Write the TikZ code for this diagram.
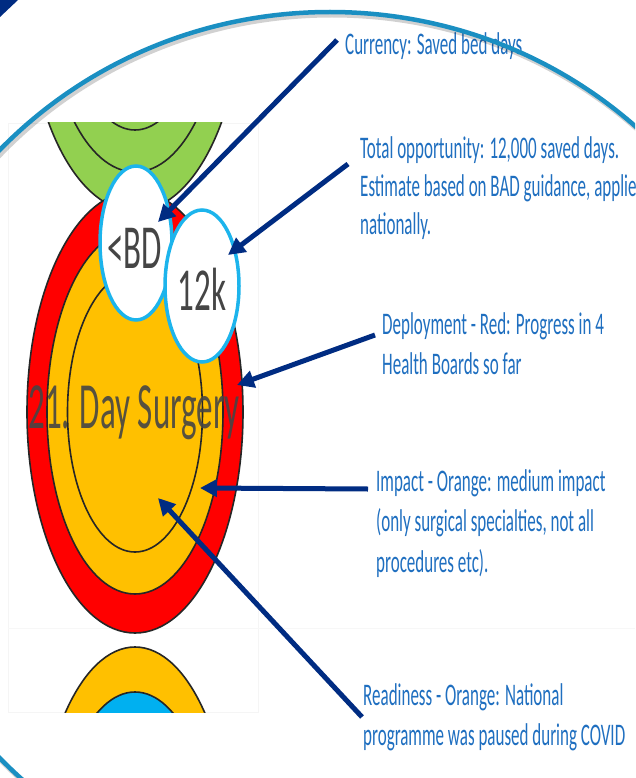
\documentclass[tikz,border=0pt]{standalone}
\usepackage{fontspec}
\usepackage{graphicx}
\setmainfont{Carlito}
\usetikzlibrary{arrows.meta}
\definecolor{navy}{HTML}{002C82}
\definecolor{arcblue}{HTML}{1A8FC2}
\definecolor{ringblue}{HTML}{1CB4EC}
\definecolor{lblblue}{HTML}{1F6FC0}
\definecolor{ragred}{HTML}{FF0000}
\definecolor{ragorange}{HTML}{FFC000}
\definecolor{raggreen}{HTML}{92D050}
\definecolor{ragblue}{HTML}{00B0F0}
\definecolor{txtgrey}{HTML}{454545}
\newcommand{\vsc}[2]{\scalebox{1}[#1]{#2}}
\newcommand{\lines}[1]{\vsc{1.85}{\begin{tabular}[t]{@{}l@{}}#1\end{tabular}}}
\begin{document}
\begin{tikzpicture}[x=1pt,y=-1pt,
  ring/.style={draw=black!85, line width=1.6pt},
  bubble/.style={draw=ringblue, line width=3.5pt, fill=white},
  callout/.style={draw=navy, line width=5pt, -{Triangle[length=17pt,width=17pt]}},
  lbl/.style={anchor=base west, inner sep=0pt, text=lblblue, font=\fontsize{17}{22}\selectfont},
  big/.style={inner sep=0pt, text=txtgrey, font=\fontsize{33}{40}\selectfont}]
\clip (0,0) rectangle (635,778);
\fill[white] (0,0) rectangle (635,778);
\fill[navy] (0,0) -- (18,0) -- (0,17) -- cycle;
% faint frame of the picture
\draw[black!4, line width=0.8pt] (8,123) rectangle (258,712);
\draw[black!3, line width=0.8pt] (8,628) -- (635,628);
\begin{scope}
  \clip (8,123) rectangle (258,712);
  % green circle (top)
  \draw[ring, fill=raggreen] (135,-10) ellipse [x radius=108pt, y radius=221pt];
  \draw[ring] (135,-10) ellipse [x radius=88pt, y radius=182pt];
  \draw[ring] (135,-10) ellipse [x radius=67.5pt, y radius=140pt];
  % red / orange circle
  \draw[ring, fill=ragred] (135,412) ellipse [x radius=108pt, y radius=221pt];
  \draw[ring, fill=ragorange] (135,412) ellipse [x radius=88pt, y radius=182pt];
  \draw[ring] (135,412) ellipse [x radius=67.5pt, y radius=140pt];
  % bottom circle
  \draw[ring, fill=ragorange] (135,868) ellipse [x radius=98pt, y radius=221pt];
  \draw[ring, fill=ragblue] (135,868) ellipse [x radius=80pt, y radius=176pt];
\end{scope}
% bubbles
\draw[bubble] (136,243) ellipse [x radius=36pt, y radius=77pt];
\node[big] (bd) at (134.5,248) {\vsc{1.9}{<BD}};
\draw[bubble] (202,286) ellipse [x radius=37pt, y radius=76pt];
\node[big] (k12) at (202,289) {\vsc{1.85}{12k}};
\node[big, text opacity=0.9] (ds) at (134,413) {\vsc{2.0}{21. Day Surgery}};
% labels
\node[lbl] (l1) at (345,55) {\lines{Currency: Saved bed days}};
\node[lbl, font=\fontsize{17}{20.5}\selectfont] (l2) at (360,159) {\lines{Total opportunity: 12,000 saved days.\\Estimate based on BAD guidance, applied\\nationally.}};
\node[lbl] (l3) at (382,334) {\lines{Deployment - Red: Progress in 4\\Health Boards so far}};
\node[lbl] (l4) at (376,491) {\lines{Impact - Orange: medium impact\\(only surgical specialties, not all\\procedures etc).}};
\node[lbl] (l5) at (363,705) {\lines{Readiness - Orange: National\\programme was paused during COVID}};
% arrows
\coordinate (s1) at (337,40);  \coordinate (t1) at (158,222);
\coordinate (s2) at (348,164); \coordinate (t2) at (228,255);
\coordinate (s3) at (375,335); \coordinate (t3) at (237,385);
\coordinate (s4) at (368,489); \coordinate (t4) at (200,488);
\coordinate (s5) at (362,717); \coordinate (t5) at (158,498);
\draw[callout] (s1) -- (t1);
\draw[callout] (s2) -- (t2);
\draw[callout] (s3) -- (t3);
\draw[callout] (s4) -- (t4);
\draw[callout] (s5) -- (t5);
% big arc with shadow
\draw[black, opacity=0.18, line width=5pt] (332,457) ellipse [x radius=455pt, y radius=442pt];
\draw[arcblue, line width=4.5pt] (330,454) ellipse [x radius=455pt, y radius=442pt];
\end{tikzpicture}
\end{document}
